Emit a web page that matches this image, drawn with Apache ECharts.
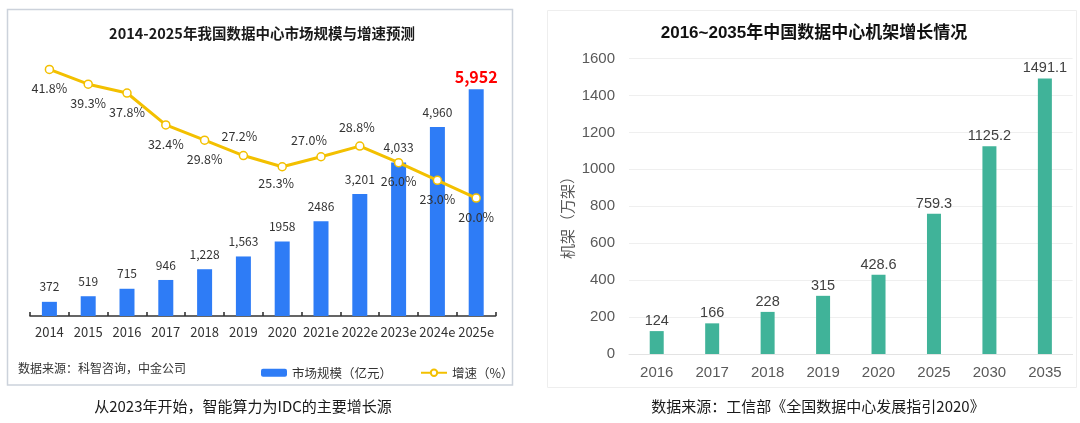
<!DOCTYPE html>
<html>
<head>
<meta charset="utf-8">
<script src="https://cdn.jsdelivr.net/npm/echarts@6/dist/echarts.min.js"></script>
<style>
  html, body { margin: 0; padding: 0; background: #fff; }
  #main { width: 1080px; height: 423px; }
</style>
</head>
<body>
<div id="main"></div>
<script>
// left chart data
const years1 = ['2014', '2015', '2016', '2017', '2018', '2019', '2020', '2021e', '2022e', '2023e', '2024e', '2025e'];
const marketSize = [372, 519, 715, 946, 1228, 1563, 1958, 2486, 3201, 4033, 4960, 5952];
const sizeLabels = ['372', '519', '715', '946', '1,228', '1,563', '1958', '2486', '3,201', '4,033', '4,960', '5,952'];
const growth = [41.8, 39.3, 37.8, 32.4, 29.8, 27.2, 25.3, 27.0, 28.8, 26.0, 23.0, 20.0];

// right chart data
const years2 = ['2016', '2017', '2018', '2019', '2020', '2025', '2030', '2035'];
const racks = [124, 166, 228, 315, 428.6, 759.3, 1125.2, 1491.1];

const cjk = '"Noto Sans CJK SC", "Noto Sans", sans-serif'
const arial = '"Liberation Sans", Arial, "Noto Sans CJK SC", sans-serif'

// growth labels that sit above the point, with a small nudge
const labelTweaks = {
  5: { position: 'top', offset: [-4, 0] },
  6: { position: 'bottom', offset: [-6, -3] },
  7: { position: 'top', offset: [-12, 3] },
  8: { position: 'top', offset: [-3, 0] }
}

const myChart = echarts.init(document.getElementById('main'))

myChart.setOption({
  animation: false,
  backgroundColor: '#fff',
  graphic: [
    {
      type: 'rect', z: -10,
      shape: { x: 7.5, y: 9.5, width: 505, height: 375.5 },
      style: { fill: '#fff', stroke: '#ccd2db', lineWidth: 1.5 }
    },
    {
      type: 'rect', z: -10,
      shape: { x: 547.5, y: 10.5, width: 529, height: 377 },
      style: { fill: '#fff', stroke: '#eeeeee', lineWidth: 1 }
    },
    {
      type: 'text', x: 262, y: 33.5,
      style: { text: '2014-2025年我国数据中心市场规模与增速预测', fontSize: 14.5, fontWeight: 'bold', fontFamily: cjk, fill: '#1a1a1a', textAlign: 'center', textVerticalAlign: 'middle' }
    },
    {
      type: 'text', x: 18, y: 368,
      style: { text: '数据来源：科智咨询，中金公司', fontSize: 12, fontFamily: cjk, fill: '#333', textAlign: 'left', textVerticalAlign: 'middle' }
    },
    {
      type: 'text', x: 243, y: 406,
      style: { text: '从2023年开始，智能算力为IDC的主要增长源', fontSize: 15, fontFamily: cjk, fill: '#1a1a1a', textAlign: 'center', textVerticalAlign: 'middle' }
    },
    {
      type: 'text', x: 814, y: 33.5,
      style: { text: '2016~2035年中国数据中心机架增长情况', fontSize: 17, fontWeight: 'bold', fontFamily: arial, fill: '#111', textAlign: 'center', textVerticalAlign: 'middle' }
    },
    {
      type: 'text', x: 567, y: 214, rotation: Math.PI / 2,
      style: { text: '机架（万架）', fontSize: 15, fontFamily: cjk, fill: '#595959', textAlign: 'center', textVerticalAlign: 'middle' }
    },
    {
      type: 'text', x: 818, y: 406,
      style: { text: '数据来源：工信部《全国数据中心发展指引2020》', fontSize: 15, fontFamily: cjk, fill: '#1a1a1a', textAlign: 'center', textVerticalAlign: 'middle' }
    }
  ],
  legend: {
    data: ['市场规模（亿元）', '增速（%）'],
    left: 256,
    top: 361.5,
    itemWidth: 26,
    itemHeight: 8,
    itemGap: 28,
    textStyle: { fontSize: 12.5, color: '#333', fontFamily: cjk }
  },
  grid: [
    { left: 30, top: 60, width: 465.6, height: 256 },
    { left: 629, top: 58.5, width: 443.6, height: 295.5 }
  ],
  xAxis: [
    {
      type: 'category', gridIndex: 0, data: years1,
      axisLine: { lineStyle: { color: '#333', width: 1.6 } },
      axisTick: { show: true, inside: true, length: 4, lineStyle: { color: '#333', width: 1.6 } },
      axisLabel: { interval: 0, hideOverlap: false, fontSize: 13, color: '#333', fontFamily: cjk, margin: 10 }
    },
    {
      type: 'category', gridIndex: 1, data: years2,
      axisLine: { lineStyle: { color: '#e3e3e3' } },
      axisTick: { show: false },
      axisLabel: { interval: 0, fontSize: 15, color: '#595959', fontFamily: arial, margin: 11 }
    }
  ],
  yAxis: [
    { type: 'value', gridIndex: 0, min: 0, max: 6721, show: false, splitLine: { show: false } },
    { type: 'value', gridIndex: 0, min: 0, max: 43.4, show: false, splitLine: { show: false } },
    {
      type: 'value', gridIndex: 1, min: 0, max: 1600, interval: 200,
      axisLine: { show: false }, axisTick: { show: false },
      axisLabel: { fontSize: 15, color: '#595959', fontFamily: arial, margin: 14, formatter: v => String(v) },
      splitLine: { lineStyle: { color: '#efefef' } }
    }
  ],
  series: [
    {
      name: '市场规模（亿元）',
      type: 'bar',
      xAxisIndex: 0, yAxisIndex: 0,
      barWidth: 15,
      itemStyle: { color: '#2e7cf6' },
      data: marketSize.map((v, i) => i === marketSize.length - 1 ? {
        value: v,
        label: { color: '#ff0000', fontSize: 16, fontWeight: 'bold', distance: 4 }
      } : v),
      label: {
        show: true, position: 'top', distance: 9,
        fontSize: 12, color: '#333', fontFamily: cjk,
        formatter: p => sizeLabels[p.dataIndex]
      }
    },
    {
      name: '增速（%）',
      type: 'line',
      xAxisIndex: 0, yAxisIndex: 1,
      symbol: 'circle', symbolSize: 8,
      lineStyle: { color: '#f3c000', width: 3 },
      itemStyle: { color: '#fff', borderColor: '#f3c000', borderWidth: 1.5 },
      data: growth.map((v, i) => labelTweaks[i] ? { value: v, label: labelTweaks[i] } : v),
      label: {
        show: true, position: 'bottom', distance: 8,
        fontSize: 12.5, color: '#333', fontFamily: cjk,
        formatter: p => p.value.toFixed(1) + '%'
      },
      z: 5
    },
    {
      name: '机架',
      type: 'bar',
      xAxisIndex: 1, yAxisIndex: 2,
      barWidth: 14,
      itemStyle: { color: '#40b399' },
      data: racks,
      label: {
        show: true, position: 'top', distance: 3,
        fontSize: 14.5, color: '#404040', fontFamily: arial
      }
    }
  ]
})
</script>
</body>
</html>
